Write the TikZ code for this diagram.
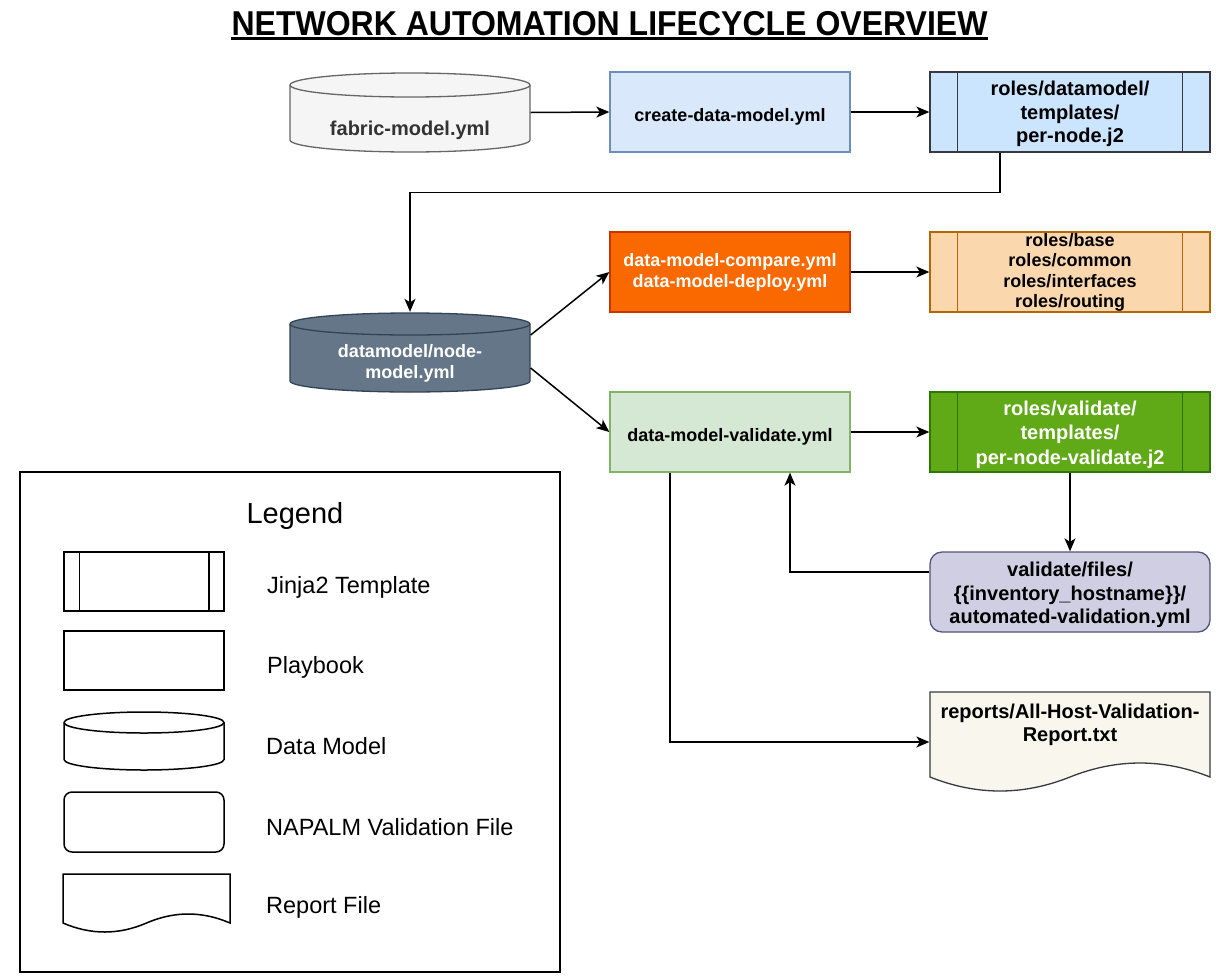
\documentclass[tikz,border=0pt]{standalone}
\usepackage{fontspec}
\setmainfont{Liberation Sans}
\usetikzlibrary{arrows.meta}
\definecolor{fabF}{HTML}{F5F5F5}\definecolor{fabS}{HTML}{666666}\definecolor{fabT}{HTML}{333333}
\definecolor{crF}{HTML}{DAE8FC}\definecolor{crS}{HTML}{6C8EBF}
\definecolor{rdF}{HTML}{CCE5FF}\definecolor{rdS}{HTML}{36393D}
\definecolor{cmF}{HTML}{FA6800}\definecolor{cmS}{HTML}{C73500}
\definecolor{rbF}{HTML}{FAD7AC}\definecolor{rbS}{HTML}{B46504}
\definecolor{dmF}{HTML}{647687}\definecolor{dmS}{HTML}{314354}
\definecolor{vaF}{HTML}{D5E8D4}\definecolor{vaS}{HTML}{82B366}
\definecolor{rvF}{HTML}{60A917}\definecolor{rvS}{HTML}{2D7600}
\definecolor{vfF}{HTML}{D0CEE2}\definecolor{vfS}{HTML}{56517E}
\definecolor{rpF}{HTML}{F9F7ED}\definecolor{rpS}{HTML}{36393D}
% cylinder: x1 y1 x2 y2 ry style
\newcommand\mycyl[6]{%
 \pgfmathsetmacro\cyCX{(#1+#3)/2}\pgfmathsetmacro\cyRX{(#3-#1)/2}%
 \pgfmathsetmacro\cyKX{0.5523*\cyRX}\pgfmathsetmacro\cyKY{0.5523*#5}%
 \pgfmathsetmacro\cyYT{#2+#5}\pgfmathsetmacro\cyYB{#4-#5}\pgfmathsetmacro\cyYF{#2+2*#5}%
 \path[#6] (#1,\cyYT) -- (#1,\cyYB) .. controls (#1,\cyYB+\cyKY) and (\cyCX-\cyKX,#4) .. (\cyCX,#4)
   .. controls (\cyCX+\cyKX,#4) and (#3,\cyYB+\cyKY) .. (#3,\cyYB) -- (#3,\cyYT)
   .. controls (#3,\cyYT-\cyKY) and (\cyCX+\cyKX,#2) .. (\cyCX,#2)
   .. controls (\cyCX-\cyKX,#2) and (#1,\cyYT-\cyKY) .. (#1,\cyYT) -- cycle;
 \path[#6,fill=none] (#1,\cyYT) .. controls (#1,\cyYT+\cyKY) and (\cyCX-\cyKX,\cyYF) .. (\cyCX,\cyYF)
   .. controls (\cyCX+\cyKX,\cyYF) and (#3,\cyYT+\cyKY) .. (#3,\cyYT);
}
% document: x1 y1 x2 yend amplitude style
\newcommand\mydoc[6]{%
 \pgfmathsetmacro\dcW{#3-#1}\pgfmathsetmacro\dcXM{(#1+#3)/2}%
 \pgfmathsetmacro\dcA{#4-4*#5/3}\pgfmathsetmacro\dcB{#4+4*#5/3}%
 \path[#6] (#1,#2) -- (#3,#2) -- (#3,#4)
   .. controls (#3-\dcW/6,\dcA) and (\dcXM+\dcW/6,\dcA) .. (\dcXM,#4)
   .. controls (\dcXM-\dcW/6,\dcB) and (#1+\dcW/6,\dcB) .. (#1,#4) -- cycle;
}
\begin{document}
\begin{tikzpicture}[x=1pt,y=-1pt,
  box/.style={rectangle, minimum width=240pt, minimum height=80pt, inner sep=0pt, line width=1.3pt},
  wbox/.style={box, minimum width=280pt},
  lbl/.style={align=center, inner sep=0pt, font=\bfseries\fontsize{18}{21}\selectfont},
  lbltw/.style={align=center, inner sep=0pt, font=\bfseries\fontsize{20}{23.5}\selectfont},
  arr/.style={line width=1.5pt, -{Stealth[length=13pt,width=11pt,inset=3.5pt]}},
  leg/.style={anchor=west, inner sep=0pt, font=\fontsize{23.5}{28}\selectfont},
  legshape/.style={line width=1.5pt, draw=black, fill=white, inner sep=0pt, minimum width=160pt, minimum height=59pt},
  inner/.style={line width=1.3pt}]
\fill[white] (0,0) rectangle (1216,978);
\useasboundingbox (0,0) rectangle (1216,978);

% title
\node[inner sep=0pt, anchor=base, xscale=0.928, font=\bfseries\fontsize{34.5}{40}\selectfont] (title) at (609.5,35) {NETWORK AUTOMATION LIFECYCLE OVERVIEW};
\draw[line width=2.5pt] ([yshift=-3.5pt]title.base west) -- ([yshift=-3.5pt]title.base east);

% fabric-model
\mycyl{290}{73}{530}{152}{12}{draw=fabS,fill=fabF,line width=1.3pt}
\node[box] (fab) at (410,112.5) {};
\node[lbltw,text=fabT] (fabt) at (410,130) {fabric-model.yml};

% create-data-model
\node[box,draw=crS,fill=crF] (cr) at (730,112) {};
\node[lbl] (crt) at (730,117) {create-data-model.yml};

% roles/datamodel
\node[wbox,draw=rdS,fill=rdF] (rd) at (1070,112) {};
\draw[inner,rdS] ([xshift=28pt]rd.north west) -- ([xshift=28pt]rd.south west)
  ([xshift=-28pt]rd.north east) -- ([xshift=-28pt]rd.south east);
\node[lbltw] (rdt) at (1070,114) {roles/datamodel/\\templates/\\per-node.j2};

% compare / deploy
\node[box,draw=cmS,fill=cmF] (cm) at (730,272) {};
\node[lbl,text=white] (cmt) at (730,272.5) {data-model-compare.yml\\data-model-deploy.yml};

% roles base
\node[wbox,draw=rbS,fill=rbF] (rb) at (1070,272) {};
\draw[inner,rbS] ([xshift=28pt]rb.north west) -- ([xshift=28pt]rb.south west)
  ([xshift=-28pt]rb.north east) -- ([xshift=-28pt]rb.south east);
\node[lbl,font=\bfseries\fontsize{18}{20.3}\selectfont] (rbt) at (1070,272.5) {roles/base\\roles/common\\roles/interfaces\\roles/routing};

% datamodel cylinder
\mycyl{290}{313}{530}{392}{11}{draw=dmS,fill=dmF,line width=1.3pt}
\node[box] (dm) at (410,352.5) {};
\node[lbl,text=white,font=\bfseries\fontsize{18}{21.6}\selectfont] (dmt) at (410,363.5) {datamodel/node-\\model.yml};

% validate playbook
\node[box,draw=vaS,fill=vaF] (va) at (730,432) {};
\node[lbl] (vat) at (730,437) {data-model-validate.yml};

% roles validate
\node[wbox,draw=rvS,fill=rvF] (rv) at (1070,432) {};
\draw[inner,rvS] ([xshift=28pt]rv.north west) -- ([xshift=28pt]rv.south west)
  ([xshift=-28pt]rv.north east) -- ([xshift=-28pt]rv.south east);
\node[lbltw,text=white,font=\bfseries\fontsize{20}{24.5}\selectfont] (rvt) at (1070,434.7) {roles/validate/\\templates/\\per-node-validate.j2};

% validation file
\node[wbox,draw=vfS,fill=vfF,rounded corners=12pt] (vf) at (1070,592) {};
\node[lbltw,font=\bfseries\fontsize{20}{23.3}\selectfont] (vft) at (1070,595) {validate/files/\\\{\{inventory\_hostname\}\}/\\automated-validation.yml};

% report
\mydoc{930}{692}{1210}{777}{14}{draw=rpS,fill=rpF,line width=1.3pt}
\node[wbox] (rp) at (1070,742) {};
\node[lbltw] (rpt) at (1070,725) {reports/All-Host-Validation-\\Report.txt};

% connectors
\draw[arr] (fab.east) -- (cr.west);
\draw[arr] (cr.east) -- (rd.west);
\draw[arr] ([xshift=-70pt]rd.south) -- ++(0,40) -| (dm.north);
\draw[arr] ([yshift=17.5pt]dm.east) -- (cm.west);
\draw[arr] ([yshift=-15.5pt]dm.east) -- (va.west);
\draw[arr] (cm.east) -- (rb.west);
\draw[arr] (va.east) -- (rv.west);
\draw[arr] (rv.south) -- (vf.north);
\draw[arr] ([yshift=20pt]vf.west) -| ([xshift=60pt]va.south);
\draw[arr] ([xshift=-60pt]va.south) |- (rp.west);

% legend
\node[draw, line width=2pt, minimum width=540pt, minimum height=500pt, inner sep=0pt] (legend) at (290,722) {};
\node[inner sep=0pt, font=\fontsize{29}{34}\selectfont] (legt) at (295,516) {Legend};

\node[legshape] (lj) at (144,581.5) {};
\draw[line width=1.5pt] ([xshift=16pt]lj.north west) -- ([xshift=16pt]lj.south west)
  ([xshift=-16pt]lj.north east) -- ([xshift=-16pt]lj.south east);
\node[leg] (ljt) at (267,587) {Jinja2 Template};

\node[legshape] (lp) at (144,660.5) {};
\node[leg] (lpt) at (267,667) {Playbook};

\mycyl{64}{712}{224}{770}{10.5}{draw=black,fill=white,line width=1.5pt}
\node[legshape,draw=none,fill=none,minimum height=58pt] (ld) at (144,741) {};
\node[leg] (ldt) at (266,746) {Data Model};

\node[legshape,rounded corners=8pt,minimum height=60pt] (ln) at (144,822) {};
\node[leg] (lnt) at (266,827) {NAPALM Validation File};

\mydoc{63}{874}{230}{923}{9}{draw=black,fill=white,line width=1.5pt}
\node[legshape,draw=none,fill=none,minimum width=167pt,minimum height=56pt] (lr) at (146.5,902) {};
\node[leg] (lrt) at (266,907) {Report File};
\end{tikzpicture}
\end{document}
